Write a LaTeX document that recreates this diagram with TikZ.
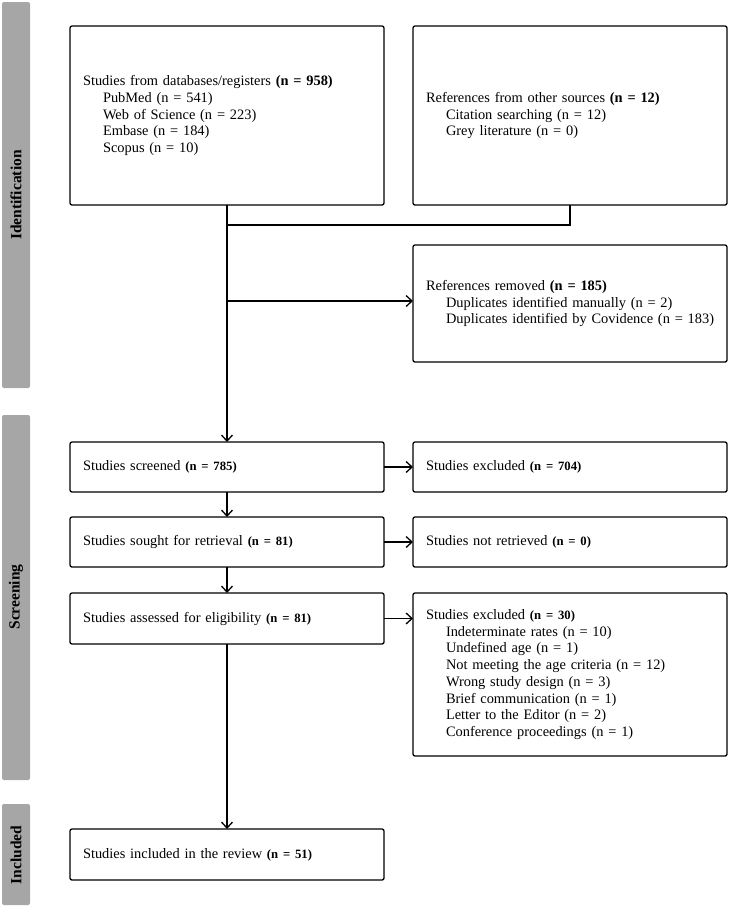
\documentclass[tikz,border=0pt]{standalone}
\usepackage{fontspec}
\setmainfont{Liberation Serif}
\usetikzlibrary{arrows.meta}
\definecolor{barg}{HTML}{A6A6A6}
\newcommand{\nb}[1]{{\fontsize{12.7}{16.7}\selectfont\bfseries #1}}
\newcommand{\ind}{\hspace*{20pt}}
\begin{document}
\begin{tikzpicture}[x=1pt,y=-1pt,
  box/.style={draw, line width=1.3pt, rounded corners=2pt, inner xsep=13pt, inner ysep=0pt,
    text width=288pt, align=left, font=\fontsize{14.4}{16.7}\selectfont, outer sep=0pt},
  bar/.style={fill=barg, rounded corners=2pt, draw=none},
  lab/.style={rotate=90, font=\fontsize{15.5}{18}\selectfont\bfseries, text=black},
  conn/.style={line width=1.3pt},
  arr/.style={conn, -{Straight Barb[length=6pt,width=11pt]}}
]
\useasboundingbox (0,0) rectangle (732,906);
% side bars
\path[bar] (2,2) rectangle (30,388);
\path[bar] (2,415) rectangle (30,780);
\path[bar] (2,804) rectangle (30,905);
\node[lab] (lid) at (16,195) {Identification};
\node[lab] (lsc) at (16,597) {Screening};
\node[lab] (lin) at (16,855) {Included};
% boxes
\node[box, minimum height=179pt] (db) at (227,115.5) {Studies from databases/registers \textbf{(n = 958)}\\
\ind PubMed (n = 541)\\
\ind Web of Science (n = 223)\\
\ind Embase (n = 184)\\
\ind Scopus (n = 10)};
\node[box, minimum height=179pt] (other) at (570,115.5) {References from other sources \textbf{(n = 12)}\\
\ind Citation searching (n = 12)\\
\ind Grey literature (n = 0)};
\node[box, minimum height=117pt] (removed) at (570,303.5) {References removed \textbf{(n = 185)}\\
\ind Duplicates identified manually (n = 2)\\
\ind \mbox{Duplicates identified by Covidence (n = 183)}\\[6pt]};
\node[box, minimum height=50pt] (screened) at (227,467) {Studies screened \nb{(n = 785)}};
\node[box, minimum height=50pt] (excl1) at (570,467) {Studies excluded \nb{(n = 704)}};
\node[box, minimum height=50pt] (sought) at (227,542) {Studies sought for retrieval \nb{(n = 81)}};
\node[box, minimum height=50pt] (notret) at (570,542) {Studies not retrieved \nb{(n = 0)}};
\node[box, minimum height=51pt] (assessed) at (227,618.5) {Studies assessed for eligibility \nb{(n = 81)}};
\node[box, minimum height=163pt] (excl2) at (570,674.5) {Studies excluded \nb{(n = 30)}\\
\ind Indeterminate rates (n = 10)\\
\ind Undefined age (n = 1)\\
\ind Not meeting the age criteria (n = 12)\\
\ind Wrong study design (n = 3)\\
\ind Brief communication (n = 1)\\
\ind Letter to the Editor (n = 2)\\
\ind Conference proceedings (n = 1)\\[10pt]};
\node[box, minimum height=51pt] (incl) at (227,854.5) {Studies included in the review \nb{(n = 51)}};
% connectors
\coordinate (j1) at (227,225);
\coordinate (j2) at (227,301);
\draw[arr] (db.south) -- (screened.north);
\draw[conn] (other.south) |- (j1);
\draw[arr] (j2) -- (j2 -| removed.west);
\draw[arr] (screened.east) -- (excl1.west);
\draw[arr] (screened.south) -- (sought.north);
\draw[arr] (sought.east) -- (notret.west);
\draw[arr] (sought.south) -- (assessed.north);
\draw[arr] (assessed.east) -- (assessed.east -| excl2.west);
\draw[arr] (assessed.south) -- (incl.north);
\end{tikzpicture}
\end{document}
